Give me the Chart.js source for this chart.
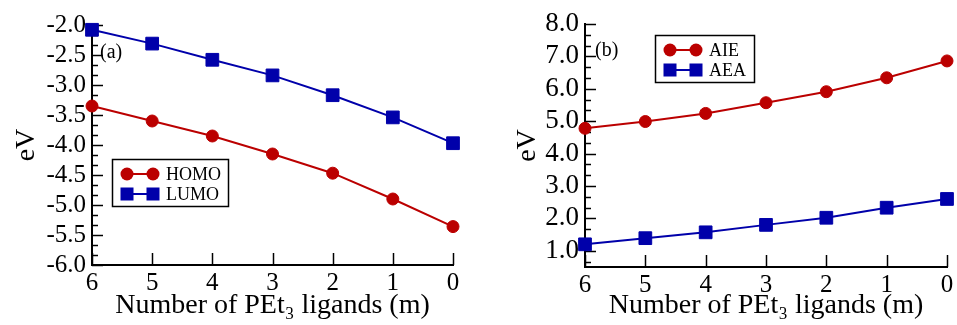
<!DOCTYPE html>
<html><head><meta charset="utf-8">
<script src="https://cdn.jsdelivr.net/npm/chart.js@4.4.0/dist/chart.umd.min.js"></script>
<style>
html,body{margin:0;padding:0;background:#fff;}
#wrap{position:relative;width:957px;height:325px;overflow:hidden;background:#fff;}
#cA{position:absolute;left:0;top:0;}
#cB{position:absolute;left:475px;top:0;}
</style></head><body>
<div id="wrap"><canvas id="cA" width="475" height="325"></canvas><canvas id="cB" width="482" height="325"></canvas></div>
<script>
// ---- data ----
const ligandCounts = ['6','5','4','3','2','1','0'];
const homo = [-3.35,-3.60,-3.85,-4.15,-4.47,-4.90,-5.36];
const lumo = [-2.08,-2.31,-2.58,-2.84,-3.17,-3.54,-3.97];
const aie  = [4.78,4.99,5.24,5.57,5.91,6.34,6.86];
const aea  = [1.20,1.39,1.57,1.80,2.02,2.33,2.60];
const yTicksA = [-6.0,-5.5,-5.0,-4.5,-4.0,-3.5,-3.0,-2.5,-2.0];
const yTicksB = [1,2,3,4,5,6,7,8];
const panelTags = ['(a)','(b)'];
const xTitle = 'Number of PEt\u2083 ligands (m)';
const yTitle = 'eV';

const RED = '#bb0000', BLUE = '#0000aa';
const SERIF = '"Liberation Serif", "DejaVu Serif", serif';
Chart.defaults.font.family = SERIF;

function drawMarker(ctx, style, x, y, color){
  ctx.fillStyle = color;
  if(style==='circle'){ ctx.beginPath(); ctx.arc(x,y,6.5,0,Math.PI*2); ctx.fill(); }
  else { ctx.fillRect(x-6.5,y-6.5,13,13); }
}

function makePlugin(cfg){
  return {
    id:'decor'+cfg.id,
    beforeDatasetsDraw(chart){
      const ctx = chart.ctx, xs = chart.scales.x, ys = chart.scales.y;
      const a = chart.chartArea;
      ctx.save();
      ctx.strokeStyle = '#000'; ctx.lineWidth = 1.5;
      for(let i=0;i<ligandCounts.length;i++){
        const px = Math.round(xs.getPixelForTick(i))+0.5;
        ctx.beginPath(); ctx.moveTo(px,a.bottom); ctx.lineTo(px,a.bottom-12); ctx.stroke();
      }
      const step = cfg.major/3;
      for(let k=0;;k++){
        const v = ys.max - k*step;
        if(v < ys.min - 1e-9) break;
        const isMajor = (k%3)===0;
        const py = Math.round(ys.getPixelForValue(v))+0.5;
        ctx.beginPath(); ctx.moveTo(a.left,py); ctx.lineTo(a.left+(isMajor?11:6),py); ctx.stroke();
      }
      ctx.restore();
    },
    afterDraw(chart){
      const ctx = chart.ctx, a = chart.chartArea;
      ctx.save();
      ctx.fillStyle='#000'; ctx.font = '20px '+SERIF; ctx.textBaseline='middle'; ctx.textAlign='left';
      ctx.fillText(cfg.tag, a.left+cfg.tagDx, a.top+cfg.tagDy);
      const bx = a.left+cfg.legDx, by = a.top+cfg.legDy;
      ctx.strokeStyle='#000'; ctx.lineWidth=1.5;
      ctx.strokeRect(bx+0.5,by+0.5,cfg.legW,47);
      chart.data.datasets.forEach((ds,i)=>{
        const ry = by+15+i*20;
        ctx.strokeStyle = ds.borderColor; ctx.lineWidth=2;
        ctx.beginPath(); ctx.moveTo(bx+15,ry); ctx.lineTo(bx+41,ry); ctx.stroke();
        drawMarker(ctx, ds.pointStyle, bx+15, ry, ds.borderColor);
        drawMarker(ctx, ds.pointStyle, bx+41, ry, ds.borderColor);
        ctx.fillStyle='#000'; ctx.font='18px '+SERIF; ctx.textBaseline='middle';
        ctx.fillText(ds.label, bx+54, ry+1);
      });
      ctx.restore();
    }
  };
}

function makeChart(id, sets, yMin, yMax, yTicks, cfg){
  return new Chart(document.getElementById(id), {
    type:'line',
    data:{ labels: ligandCounts, datasets: sets.map(s=>({
      label:s.label, data:s.data, borderColor:s.color, backgroundColor:s.color,
      pointBackgroundColor:s.color, pointBorderColor:s.color,
      pointStyle:s.style, pointRadius:s.style==='circle'?6:9, pointBorderWidth:1,
      borderWidth:2, tension:0, clip:false, fill:false
    }))},
    options:{
      responsive:false, devicePixelRatio:1, animation:false,
      layout:{padding:{top:cfg.padTop,right:cfg.padRight,left:0,bottom:0}},
      plugins:{legend:{display:false}, tooltip:{enabled:false}},
      scales:{
        x:{ type:'category', offset:false,
            grid:{display:false, drawTicks:false},
            border:{display:true,color:'#000',width:2},
            ticks:{color:'#000',font:{family:SERIF,size:25},padding:3,maxRotation:0,autoSkip:false},
            title:{display:true,text:xTitle,color:'#000',font:{family:SERIF,size:28},padding:{top:0,bottom:3}},
            afterFit(s){ s.height = cfg.xH; }
        },
        y:{ type:'linear', min:yMin, max:yMax,
            grid:{display:false, drawTicks:false},
            border:{display:true,color:'#000',width:2},
            ticks:{color:'#000',font:{family:SERIF,size:cfg.yFont,lineHeight:1},padding:6,autoSkip:false,
                   callback:(v)=>Number(v).toFixed(1)},
            afterBuildTicks(s){ s.ticks = yTicks.map(v=>({value:v})); },
            title:{display:true,text:yTitle,color:'#000',font:{family:SERIF,size:28},padding:{top:cfg.yTitlePad,bottom:0}},
            afterFit(s){ s.width = cfg.yW; }
        }
      }
    },
    plugins:[makePlugin(cfg)]
  });
}

function build(){
makeChart('cA', [
  {label:'HOMO', data:homo, color:RED, style:'circle'},
  {label:'LUMO', data:lumo, color:BLUE, style:'rect'}
], -6.0, -2.0, yTicksA, {id:'a', tag:panelTags[0], major:0.5, padTop:25, padRight:22, xH:60, yW:92, yFont:25, yTitlePad:10,
  tagDx:8, tagDy:28, legDx:20, legDy:134, legW:116});

makeChart('cB', [
  {label:'AIE', data:aie, color:RED, style:'circle'},
  {label:'AEA', data:aea, color:BLUE, style:'rect'}
], 0.5, 8.0, yTicksB, {id:'b', tag:panelTags[1], major:1.0, padTop:24, padRight:7, xH:58, yW:110, yFont:27, yTitlePad:36,
  tagDx:10, tagDy:27, legDx:70, legDy:11, legW:99});
}
if (document.fonts && document.fonts.load) {
  Promise.all([document.fonts.load('20px "Liberation Serif"')]).then(build, build);
} else build();
</script>
</body></html>
